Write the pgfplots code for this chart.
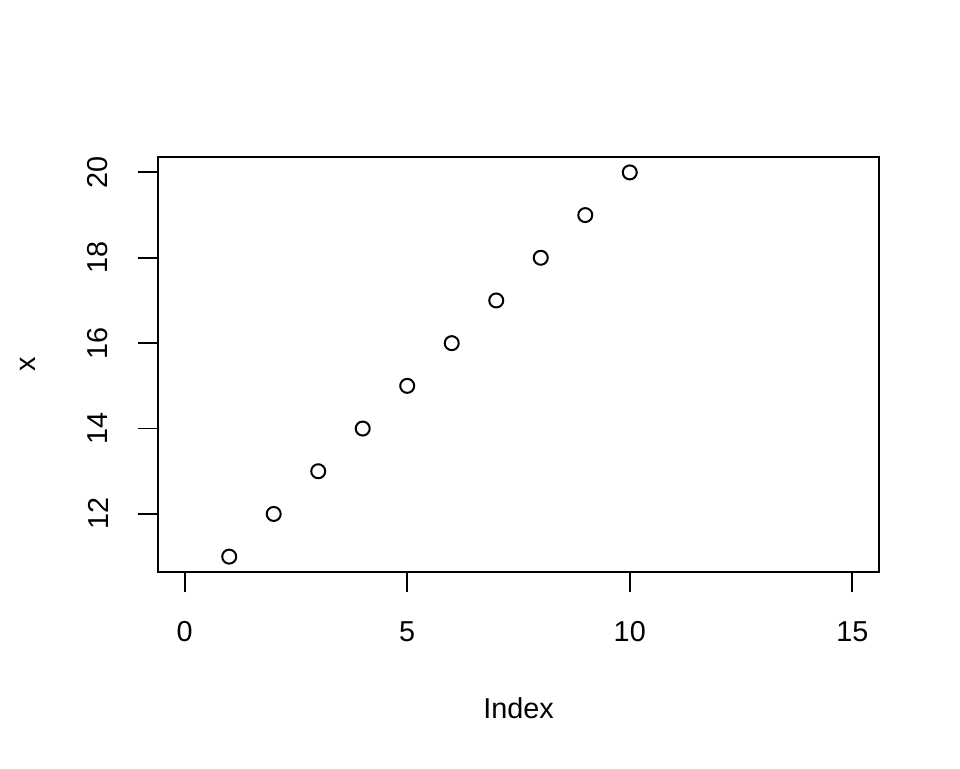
\documentclass[border=0pt]{standalone}
\usepackage{fontspec}
\setmainfont{Liberation Sans}
\usepackage{pgfplots}
\pgfplotsset{compat=1.18}
\begin{document}
\begin{tikzpicture}
\path[use as bounding box] (0,0) rectangle (480pt,384pt);
\begin{axis}[
  at={(79pt,98pt)}, anchor=south west,
  scale only axis, width=360.5pt, height=207.5pt,
  xmin=-0.6, xmax=15.6, ymin=10.64, ymax=20.36,
  axis line style={line width=0.9pt},
  tick style={line width=0.9pt, black},
  tick align=outside, major tick length=10pt,
  xtick={0,5,10,15}, ytick={12,14,16,18,20},
  xtick pos=bottom, ytick pos=left,
  /pgf/number format/assume math mode=true,
  font=\fontsize{14.4}{17}\selectfont,
  xticklabel style={anchor=center, yshift=-20pt},
  yticklabel shift=20pt,
  yticklabel style={anchor=center, rotate=90},
  xlabel={Index}, ylabel={x},
  xlabel style={at={(axis description cs:0.5,-0.3277)}, anchor=center},
  ylabel style={at={(axis description cs:-0.18,0.5)}, anchor=center, rotate=0},
]
\addplot[only marks, mark=o, mark size=3.5pt, mark options={line width=1pt, black}] coordinates {
(1,11) (2,12) (3,13) (4,14) (5,15) (6,16) (7,17) (8,18) (9,19) (10,20)
};
\end{axis}
\end{tikzpicture}
\end{document}
